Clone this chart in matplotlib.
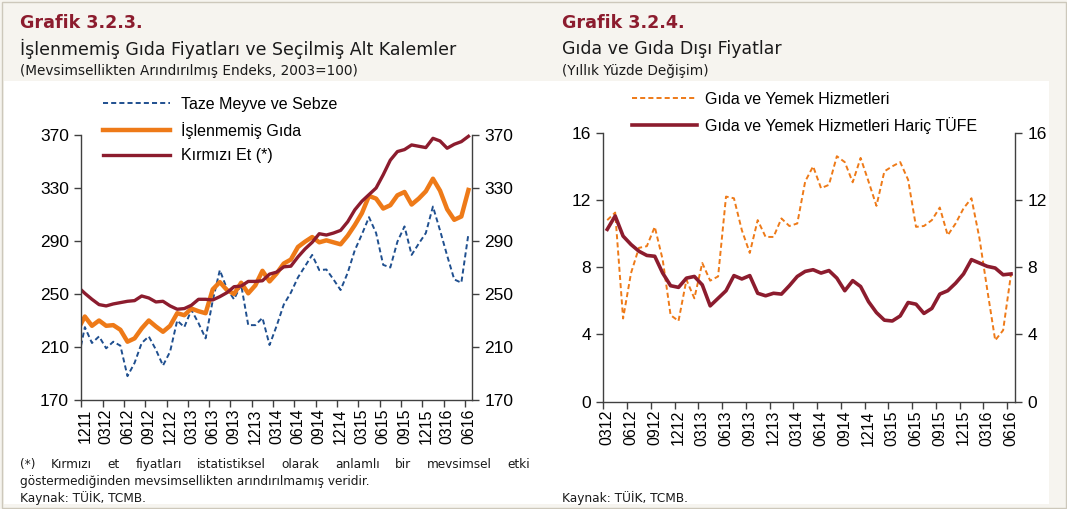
import numpy as np
import matplotlib.pyplot as plt
from matplotlib.patches import Rectangle

W, H = 1067, 509

# Grafik 3.2.3 - aylik endeks, 1111..0616 (ilk deger eksenin solunda kaliyor)
taze_meyve = [199, 225, 213, 218, 209, 214, 211, 188, 198, 213,
              218, 208, 196, 206.5, 230, 225, 238, 228, 216.5, 245,
              268, 254, 246, 257, 226.5, 226.5, 232, 211.5, 226, 242,
              251, 262.5, 271, 279.5, 268, 268.5, 261, 253, 266, 283,
              295, 308, 296, 272, 270, 289.5, 301, 279.5, 288, 296,
              316, 298, 279, 261, 258.5, 295.5]
islenmemis = [223, 233, 226, 230, 226, 226.5, 223, 214, 216.5, 224,
              230, 225.5, 221.5, 226, 235.5, 234, 239, 237, 235.5, 253.5,
              259, 253, 250, 258.5, 250.5, 256.5, 267.5, 259.5, 265.5, 273,
              276, 285.5, 289.5, 293, 289, 290.5, 289, 287.5, 294, 302,
              311, 324, 322, 314.5, 317, 324.5, 327, 317.5, 322, 327.5,
              337, 328, 314, 306, 308.5, 328.5]
kirmizi_et = [255.5, 250.5, 246, 242, 241, 242.5, 243.5, 244.5, 245, 248.5,
              247, 244, 244.5, 241, 238.5, 239, 241.5, 246, 246, 245.5,
              248, 251, 255.5, 256, 259.5, 259.5, 260, 265, 266.5, 270.5,
              271, 278, 284, 289, 295.5, 294.5, 296, 298, 304.5, 313.5,
              320, 325, 330, 340, 351, 357.5, 359, 362.5, 361.5, 360.5,
              367.5, 365.5, 360, 363, 365, 369]
sol_etiket = ['1211', '0312', '0612', '0912', '1212', '0313', '0613', '0913', '1213', '0314',
              '0614', '0914', '1214', '0315', '0615', '0915', '1215', '0316', '0616']

# Grafik 3.2.4 - yillik yuzde degisim, 0312..0616
gida_yemek = [10.8, 11.25, 4.95, 7.65, 9.15, 9.25, 10.4, 8.45, 5.15, 4.8,
              7.25, 6.15, 8.25, 7.2, 7.45, 12.2, 12.1, 10.2, 8.85, 10.8,
              9.8, 9.8, 10.9, 10.45, 10.6, 13.1, 14.0, 12.7, 12.9, 14.6,
              14.25, 13.05, 14.5, 13.1, 11.65, 13.7, 14.0, 14.25, 13.2, 10.4,
              10.45, 10.8, 11.55, 9.9, 10.6, 11.5, 12.1, 9.75, 6.65, 3.65,
              4.25, 7.6]
haric_tufe = [10.25, 11.05, 9.85, 9.35, 8.95, 8.7, 8.65, 7.65, 6.9, 6.8,
              7.35, 7.45, 6.95, 5.7, 6.15, 6.6, 7.5, 7.3, 7.5, 6.45,
              6.3, 6.45, 6.4, 6.9, 7.45, 7.75, 7.85, 7.65, 7.8, 7.35,
              6.6, 7.2, 6.85, 5.95, 5.3, 4.85, 4.8, 5.1, 5.9, 5.8,
              5.25, 5.55, 6.4, 6.6, 7.05, 7.6, 8.45, 8.25, 8.05, 7.95,
              7.55, 7.6]
sag_etiket = ['0312', '0612', '0912', '1212', '0313', '0613', '0913', '1213', '0314', '0614',
              '0914', '1214', '0315', '0615', '0915', '1215', '0316', '0616']

KOYU_KIRMIZI = '#8c1c2e'
TURUNCU = '#ee7a18'
MAVI = '#1f4f8f'
EKSEN = '#404040'
YAZI = '#1a1a1a'
BASLIK_FONT = 'DejaVu Sans'
plt.rcParams['font.family'] = ['Liberation Sans', 'DejaVu Sans']


def px(x, y):
    return x / W, 1 - y / H


def eksen_ayarla(ax, n, ylim, yticks, etiketler):
    ax.set_xlim(-0.5, n - 0.5)
    ax.set_ylim(*ylim)
    ax.set_yticks(yticks)
    ax.set_xticks(np.arange(-0.5, n - 0.5, 3))
    ax.set_xticklabels([])
    ax.set_xticks(np.arange(0, n, 3), minor=True)
    ax.set_xticklabels(etiketler, minor=True, rotation=90, fontsize=11.5)
    ax.tick_params(which='major', direction='out', length=5, width=1, color=EKSEN,
                   labelsize=12.5, left=True, right=True, labelleft=True, labelright=True, pad=4)
    ax.tick_params(which='minor', length=0, pad=6)
    ax.spines['top'].set_visible(False)
    for s in ['left', 'right', 'bottom']:
        ax.spines[s].set_color(EKSEN)
        ax.spines[s].set_linewidth(1)
    ax.set_facecolor('none')


def kirp(ax, line, n, ylim):
    r = Rectangle((-0.5, ylim[0] - 50), n, ylim[1] - ylim[0] + 100, transform=ax.transData)
    line.set_clip_path(r)


fig = plt.figure(figsize=(W / 100, H / 100), dpi=100, facecolor='#f6f4ef')
fig.patches.append(Rectangle(px(4, 504), 1045 / W, 423 / H, transform=fig.transFigure,
                             facecolor='white', edgecolor='none', zorder=-2))
fig.patches.append(Rectangle((1.5 / W, 1.5 / H), 1 - 3 / W, 1 - 3 / H, transform=fig.transFigure,
                             facecolor='none', edgecolor='#cdc8bb', linewidth=1, zorder=-1))

# --- Grafik 3.2.3 ---
ax1 = fig.add_axes([81.3 / W, 1 - 400 / H, 390.7 / W, 265 / H])
x1 = np.arange(-1, len(taze_meyve) - 1)
n1 = len(taze_meyve) - 1
l_taze, = ax1.plot(x1, taze_meyve, color=MAVI, lw=1.4, dashes=(2.6, 1.6), label='Taze Meyve ve Sebze')
l_isl, = ax1.plot(x1, islenmemis, color=TURUNCU, lw=3.2, label='İşlenmemiş Gıda', solid_joinstyle='round')
l_et, = ax1.plot(x1, kirmizi_et, color=KOYU_KIRMIZI, lw=2.4, label='Kırmızı Et (*)', solid_joinstyle='round')
for l in (l_taze, l_isl, l_et):
    kirp(ax1, l, n1, (170, 370))
eksen_ayarla(ax1, n1, (170, 370), np.arange(170, 371, 40), sol_etiket)
ax1.legend(loc='upper left', bbox_to_anchor=px(103, 97), bbox_transform=fig.transFigure,
           frameon=False, fontsize=11.5, handlelength=4.2, handletextpad=0.7,
           labelspacing=0.6, borderpad=0, borderaxespad=0)

# --- Grafik 3.2.4 ---
ax2 = fig.add_axes([603.3 / W, 1 - 401.7 / H, 411.7 / W, 269 / H])
x2 = np.arange(len(gida_yemek))
n2 = len(gida_yemek)
l_gy, = ax2.plot(x2, gida_yemek, color=TURUNCU, lw=1.4, dashes=(2.6, 1.6), label='Gıda ve Yemek Hizmetleri')
l_ht, = ax2.plot(x2, haric_tufe, color=KOYU_KIRMIZI, lw=2.6, label='Gıda ve Yemek Hizmetleri Hariç TÜFE',
                 solid_joinstyle='round')
for l in (l_gy, l_ht):
    kirp(ax2, l, n2, (0, 16))
eksen_ayarla(ax2, n2, (0, 16), np.arange(0, 17, 4), sag_etiket)
ax2.legend(loc='upper left', bbox_to_anchor=px(632, 92), bbox_transform=fig.transFigure,
           frameon=False, fontsize=11.5, handlelength=4.1, handletextpad=0.5,
           labelspacing=0.6, borderpad=0, borderaxespad=0)

# --- basliklar ---
for x0, no, baslik, alt in [(20, 'Grafik 3.2.3.', 'İşlenmemiş Gıda Fiyatları ve Seçilmiş Alt Kalemler',
                             '(Mevsimsellikten Arındırılmış Endeks, 2003=100)'),
                            (562, 'Grafik 3.2.4.', 'Gıda ve Gıda Dışı Fiyatlar', '(Yıllık Yüzde Değişim)')]:
    fig.text(*px(x0, 23), no, fontsize=12.6, fontweight='bold', color=KOYU_KIRMIZI,
             family=BASLIK_FONT, va='center')
    fig.text(*px(x0, 49), baslik, fontsize=12.5, color=YAZI, family=BASLIK_FONT, va='center')
    fig.text(*px(x0, 71), alt, fontsize=9.8, color=YAZI, family=BASLIK_FONT, va='center')

# --- dipnotlar ---
not1 = '(*) Kırmızı et fiyatları istatistiksel olarak anlamlı bir mevsimsel etki'
not2 = 'göstermediğinden mevsimsellikten arındırılmamış veridir.'
fig.canvas.draw()
r = fig.canvas.get_renderer()
kelimeler = [fig.text(0, 0, k, fontsize=8.7, family=BASLIK_FONT, va='baseline', color=YAZI)
             for k in not1.split()]
genislik = [t.get_window_extent(r).width for t in kelimeler]
bosluk = (530 - 20 - sum(genislik)) / (len(kelimeler) - 1)
xx = 20
for t, g in zip(kelimeler, genislik):
    t.set_position(px(xx, 468))
    xx += g + bosluk
fig.text(*px(20, 485), not2, fontsize=8.7, family=BASLIK_FONT, va='baseline', color=YAZI)
fig.text(*px(20, 502), 'Kaynak: TÜİK, TCMB.', fontsize=8.7, family=BASLIK_FONT, va='baseline', color=YAZI)
fig.text(*px(562, 502), 'Kaynak: TÜİK, TCMB.', fontsize=8.7, family=BASLIK_FONT, va='baseline', color=YAZI)

fig.savefig('out.png', dpi=100, facecolor=fig.get_facecolor())
